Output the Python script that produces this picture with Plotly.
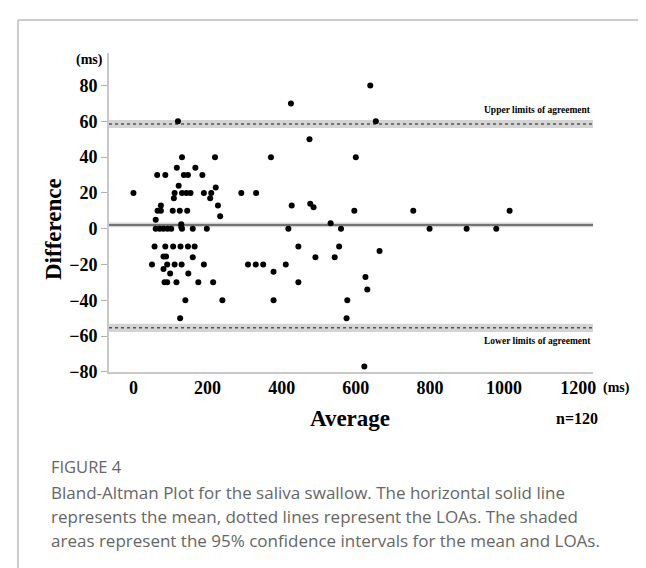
import plotly.graph_objects as go

# ---- data ----
avg_ms = [120, 654, 639, 425, 475,
          131, 220, 371, 600,
          117, 167,
          64, 86, 136, 147, 186,
          122, 222,
          0, 111, 131, 143, 154, 190, 210, 291, 331,
          109, 207,
          74, 228, 427, 477, 486,
          65, 74, 106, 125, 145, 596, 755, 1015,
          234, 60, 532, 129, 129,
          60, 71, 81, 92, 102, 131, 160, 198, 418, 560, 799, 899, 979,
          57, 86, 107, 127, 147, 165, 445, 555,
          664,
          81, 88, 160, 491, 543,
          50, 91, 111, 130, 190, 309, 330, 350, 411,
          81, 378, 99, 148, 626,
          84, 91, 116, 175, 215, 445,
          631,
          140, 240, 378, 577,
          126, 575,
          623]
diff_ms = [60, 60, 80, 70, 50,
           40, 40, 40, 40,
           34, 34,
           30, 30, 30, 30, 30,
           24, 23,
           20, 20, 20, 20, 20, 20, 20, 20, 20,
           17, 17,
           13, 13, 13, 14, 12,
           10, 10, 10, 10, 10, 10, 10, 10,
           7, 5, 3, 2.5, 1,
           0, 0, 0, 0, 0, 0, 0, 0, 0, 0, 0, 0, 0,
           -10, -10, -10, -10, -10, -10, -10, -10,
           -12.5,
           -15.5, -15.5, -16, -16, -16,
           -20, -20, -20, -20, -20, -20, -20, -20, -20,
           -22.5, -24, -25, -25, -27,
           -30, -30, -30, -30, -30, -30,
           -34,
           -40, -40, -40, -40,
           -50, -50,
           -77]

mean_diff = 2.0
mean_ci = [0.8, 3.4]
upper_loa = 58.5
upper_ci = [56.3, 60.7]
lower_loa = -55.4
lower_ci = [-57.7, -53.1]

x_ticks = [0, 200, 400, 600, 800, 1000, 1200]
y_ticks = [-80, -60, -40, -20, 0, 20, 40, 60, 80]

W, H = 646, 568
L, R, T, B = 101, 585, 45, 364
pw, ph = R - L, B - T


def px(xp):
    return (xp - L) / pw


def py(yp):
    return (B - yp) / ph


SERIF = "Liberation Serif"
SANS = "Open Sans"

fig = go.Figure()
fig.add_trace(go.Scatter(x=avg_ms, y=diff_ms, mode="markers",
                         marker=dict(color="black", size=6),
                         hoverinfo="x+y", showlegend=False))

shapes = []
for lo, hi in (mean_ci, upper_ci, lower_ci):
    shapes.append(dict(type="rect", xref="paper", yref="y", x0=0, x1=1, y0=lo, y1=hi,
                       fillcolor="#d4d4d4", line=dict(width=0), layer="below"))
shapes.append(dict(type="line", xref="paper", yref="y", x0=0, x1=1, y0=mean_diff, y1=mean_diff,
                   line=dict(color="#555555", width=1.5), layer="below"))
for v in (upper_loa, lower_loa):
    shapes.append(dict(type="line", xref="paper", yref="y", x0=0, x1=1, y0=v, y1=v,
                       line=dict(color="#555555", width=1.5, dash="dot"), layer="below"))
# panel border (top and left)
shapes.append(dict(type="line", xref="paper", yref="paper", x0=px(10), x1=px(660),
                   y0=py(12), y1=py(12), line=dict(color="#bdbdbd", width=1.5)))
shapes.append(dict(type="line", xref="paper", yref="paper", x0=px(10), x1=px(10),
                   y0=py(12), y1=py(600), line=dict(color="#bdbdbd", width=1.5)))

ann = []


def text(s, xp, yp, size, xanchor="center", yanchor="middle", angle=0, family=SERIF,
         color="black"):
    ann.append(dict(text=s, x=px(xp), y=py(yp), xref="paper", yref="paper",
                    xanchor=xanchor, yanchor=yanchor, showarrow=False, textangle=angle,
                    font=dict(family=family, size=size, color=color)))


text("<b>(ms)</b>", 97, 52, 14, xanchor="right")
text("<b>(ms)</b>", 593, 380, 14, xanchor="left")
text("<b>Difference</b>", 45, 221, 23, angle=-90)
text("<b>Average</b>", 342, 410, 23)
text("<b>n=120</b>", 592, 410, 16, xanchor="right")
text("<b>Upper limits of agreement</b>", 585, 102, 9.5, xanchor="right")
text("<b>Lower limits of agreement</b>", 585, 333, 9.5, xanchor="right")
text("FIGURE 4", 41, 459, 16.5, xanchor="left", family=SANS, color="#666666")
cap = ["Bland-Altman Plot for the saliva swallow. The horizontal solid line",
       "represents the mean, dotted lines represent the LOAs. The shaded",
       "areas represent the 95% confidence intervals for the mean and LOAs."]
for i, line in enumerate(cap):
    text(line, 41, 484 + 24 * i, 17, xanchor="left", family=SANS, color="#666666")

fig.update_layout(
    width=W, height=H,
    margin=dict(l=L, r=W - R, t=T, b=H - B, pad=0),
    paper_bgcolor="white", plot_bgcolor="white",
    shapes=shapes, annotations=ann,
    xaxis=dict(range=[-66, 1240], tickvals=x_ticks, showgrid=False, zeroline=False,
               showline=True, linecolor="#c8c8c8", linewidth=2, ticks="",
               ticklabelstandoff=-2,
               tickfont=dict(family=SERIF, size=18, color="black", weight="bold")),
    yaxis=dict(range=[-80.1, 98.2], tickvals=y_ticks, showgrid=False, zeroline=False,
               showline=True, linecolor="#c8c8c8", linewidth=2, ticks="outside",
               ticklen=6, tickcolor="#b0b0b0", tickwidth=1,
               tickfont=dict(family=SERIF, size=18, color="black", weight="bold")),
)

fig.write_html("out.html")
